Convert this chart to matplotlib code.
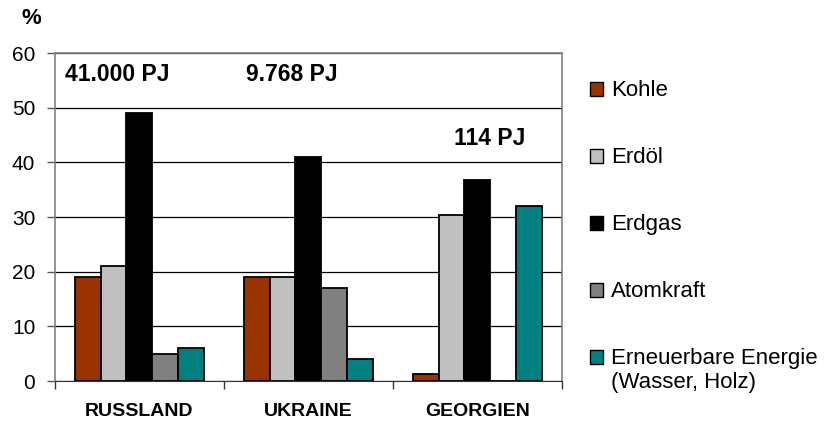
import matplotlib.pyplot as plt
import numpy as np
from matplotlib.patches import Patch

plt.rcParams['font.family'] = ['Liberation Sans', 'DejaVu Sans']

countries = ["RUSSLAND", "UKRAINE", "GEORGIEN"]
sources = ["Kohle", "Erdöl", "Erdgas", "Atomkraft", "Erneuerbare Energie"]
colors = ["#993300", "#c0c0c0", "#000000", "#808080", "#008080"]

# share in % per source, one list per country
kohle = [19, 19, 1.3]
erdoel = [21, 19, 30.3]
erdgas = [49, 41, 36.7]
atom = [5, 17, 0]
erneuerbar = [6, 4, 32]
totals = ["41.000 PJ", "9.768 PJ", "114 PJ"]
total_x = [0.37, 1.40, 2.57]
total_y = [56, 56, 44.4]

values = [kohle, erdoel, erdgas, atom, erneuerbar]

fig = plt.figure(figsize=(8.3, 4.21), dpi=100)
ax = fig.add_axes([0.066, 0.095, 0.611, 0.779])

x = np.arange(len(countries)) + 0.5
w = 0.153
for i, vals in enumerate(values):
    ax.bar(x + (i - 2) * w, vals, width=w, color=colors[i],
           edgecolor="black", linewidth=1.3, zorder=3)

for tx, ty, t in zip(total_x, total_y, totals):
    ax.text(tx, ty, t, ha="center", va="center", fontsize=16.5, fontweight="bold")

ax.set_xlim(0, 3)
ax.set_ylim(0, 60)
ax.set_yticks(range(0, 61, 10))
ax.yaxis.grid(True, color="black", linewidth=0.9, zorder=0)
ax.tick_params(axis="y", labelsize=15, length=6, width=1, color="#555555", pad=8)

ax.set_xticks([0, 1, 2, 3])
ax.set_xticklabels([])
ax.tick_params(axis="x", which="major", length=6, width=1, color="#333333")
ax.set_xticks(x, minor=True)
ax.set_xticklabels(countries, minor=True, fontsize=14, fontweight="bold")
ax.tick_params(axis="x", which="minor", length=0, pad=16)

for s in ["left", "right", "top"]:
    ax.spines[s].set_color("#808080")
    ax.spines[s].set_linewidth(1.2)
ax.spines["bottom"].set_color("#333333")

fig.text(0.0265, 0.957, "%", fontsize=16, fontweight="bold", va="center")

handles = [Patch(facecolor=c, edgecolor="black", linewidth=1) for c in colors]
leg = fig.legend(handles, sources, loc="upper left", bbox_to_anchor=(0.7, 0.83),
                 frameon=False, fontsize=16, handlelength=0.6, handleheight=0.6,
                 handletextpad=0.35, labelspacing=2.07, borderaxespad=0)

# second line of the last legend entry, handle stays on the first line
fig.canvas.draw()
ax.annotate("(Wasser, Holz)", xy=(0, 0.5), xycoords=leg.get_texts()[-1],
            xytext=(0, -24), textcoords="offset pixels",
            ha="left", va="center", fontsize=16, annotation_clip=False)

fig.savefig("out.png", dpi=100)
